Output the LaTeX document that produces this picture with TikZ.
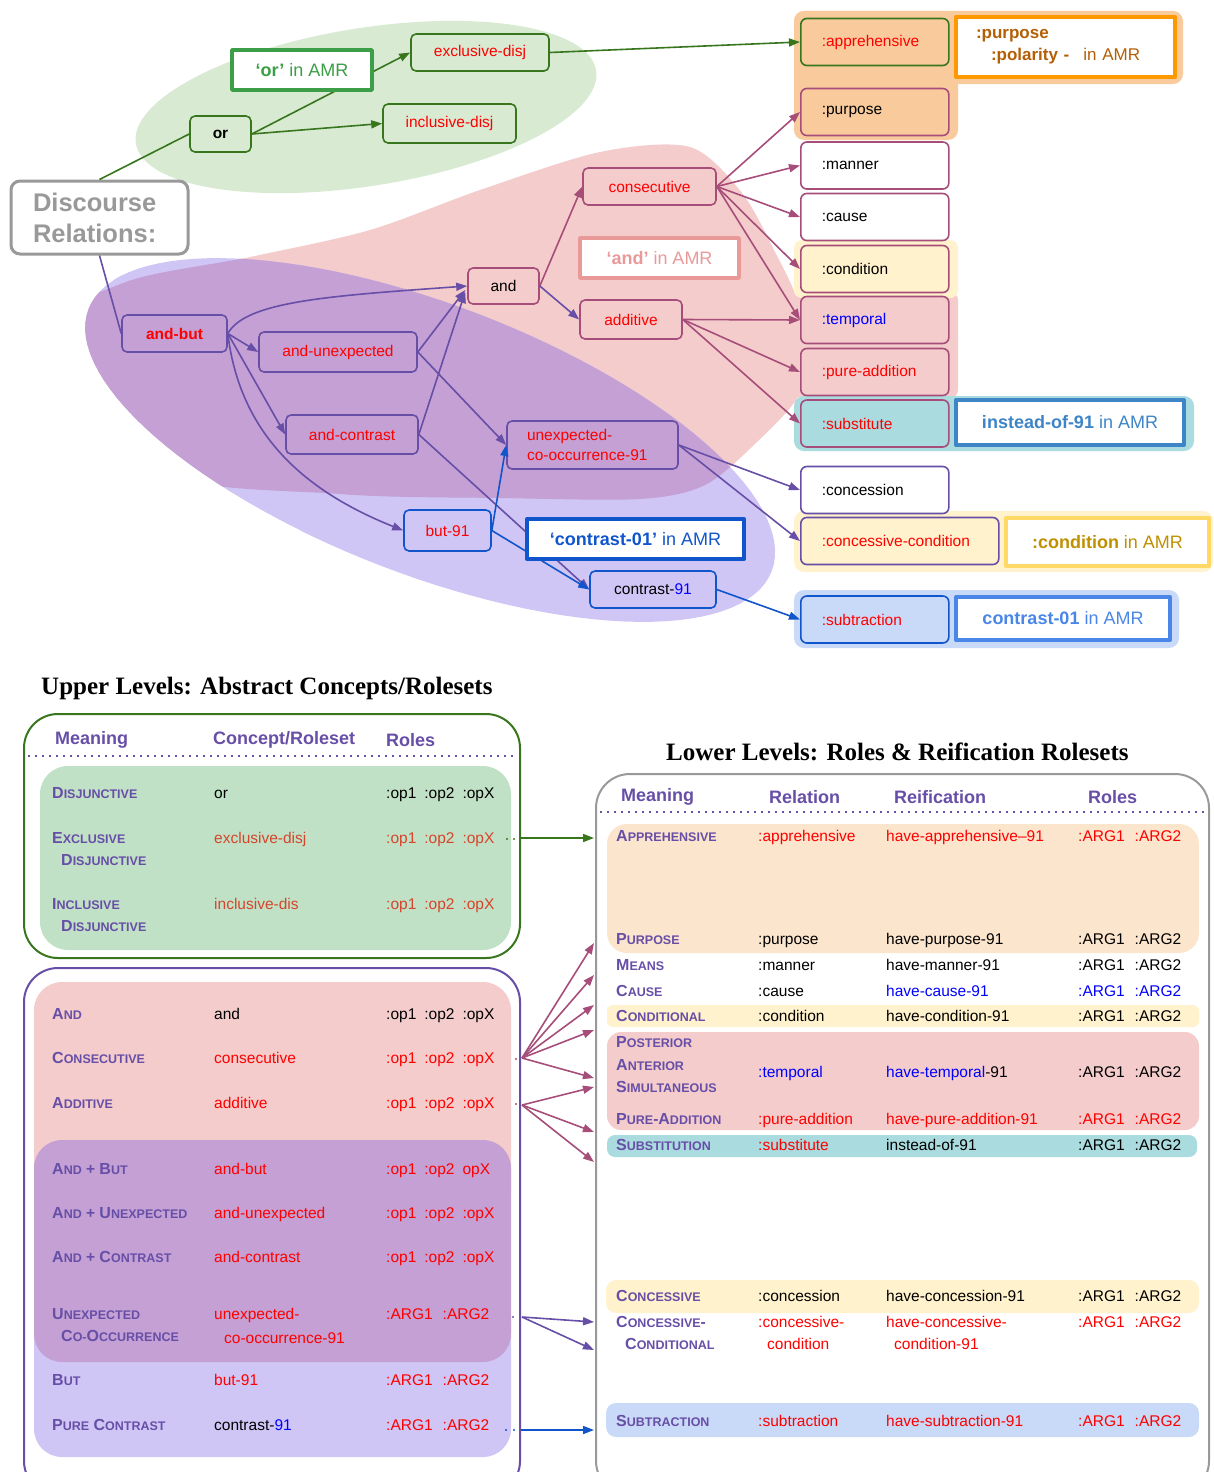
\documentclass[tikz,border=0pt]{standalone}
\usepackage{fontspec}
\setmainfont{Liberation Sans}
\newfontfamily\headfont{Liberation Serif}
\usetikzlibrary{arrows.meta,calc,positioning}

\definecolor{dgreen}{HTML}{38761D}
\definecolor{amrg}{HTML}{3C9E46}
\definecolor{plum}{HTML}{A64D79}
\definecolor{purp}{HTML}{674EA7}
\definecolor{cblue}{HTML}{1155CC}
\definecolor{grayb}{HTML}{999999}
\definecolor{greenbg}{HTML}{D9EAD3}
\definecolor{pinkbg}{HTML}{F4CCCC}
\definecolor{lavbg}{HTML}{CFC6F5}
\definecolor{mauve}{HTML}{C4A0D4}
\definecolor{peach}{HTML}{F9CB9C}
\definecolor{lpeach}{HTML}{FCE5CD}
\definecolor{lyellow}{HTML}{FFF2CC}
\definecolor{cyanbg}{HTML}{A9DBDF}
\definecolor{lblue}{HTML}{C9DAF8}
\definecolor{tgreen}{HTML}{C1E1C6}
\definecolor{tred}{HTML}{D5452B}
\definecolor{orangeb}{HTML}{FF9900}
\definecolor{oranget}{HTML}{B45F06}
\definecolor{goldb}{HTML}{FFD966}
\definecolor{goldt}{HTML}{BF9000}
\definecolor{steel}{HTML}{3D85C6}
\definecolor{cornb}{HTML}{4A86E8}
\definecolor{andred}{HTML}{EA9999}

\newcommand\smc[2]{{\fontsize{16}{18}\selectfont#1}{\fontsize{12.5}{14}\selectfont#2}}
\newcommand\cR[1]{\textcolor{red}{#1}}
\newcommand\cB[1]{\textcolor{blue}{#1}}
\newcommand\cT[1]{\textcolor{tred}{#1}}
\newcommand\opsx{:op1\hspace{8pt}:op2\hspace{8pt}:opX}
\newcommand\argsx{:ARG1\hspace{10pt}:ARG2}
% rows of the two tables
\newcommand\urow[5]{\node[mean] (#1-m) at (52,#2) {#3};
  \node[cell] (#1-c) at (214,#2) {#4};
  \node[cell] (#1-r) at (386,#2) {#5};}
\newcommand\lrow[6]{\node[mean] (#1-m) at (616,#2) {#3};
  \node[cell] (#1-r) at (758,#2) {#4};
  \node[cell] (#1-f) at (886,#2) {#5};
  \node[cell] (#1-a) at (1078,#2) {#6};}

\tikzset{
  nbox/.style={draw=#1, rounded corners=5pt, line width=1.6pt, minimum height=37pt, inner sep=0pt},
  rolebox/.style={draw=#1, rounded corners=6pt, line width=1.6pt, anchor=west, minimum height=47pt,
    inner xsep=21pt, text width=106pt, align=left},
  amrbox/.style={draw=#1, line width=3.5pt, fill=white, inner sep=0pt, font=\fontsize{18}{21}\selectfont},
  discbox/.style={draw=grayb, line width=3pt, rounded corners=9pt, fill=white, text=grayb,
    font=\fontsize{25.5}{31}\selectfont\bfseries, minimum height=73pt, align=left, text width=133pt, inner xsep=22pt},
  link/.style={draw=#1, line width=1.6pt, -{Triangle[length=11pt,width=8pt]}},
  cell/.style={anchor=west, inner sep=0pt, text height=11pt, text depth=0.5pt},
  mean/.style={cell, font=\bfseries, text=purp},
  head/.style={anchor=west, inner sep=0pt, font=\fontsize{18}{20}\selectfont\bfseries, text=purp},
  tabtitle/.style={anchor=west, inner sep=0pt, font=\headfont\bfseries\fontsize{25}{28}\selectfont}
}

\begin{document}
\fontsize{15.5}{18}\selectfont
\begin{tikzpicture}[x=1pt,y=-1pt,line join=round]
\useasboundingbox (0,0) rectangle (1213,1472);
%== blobs
\def\lavpath{plot[domain=0:360,samples=121] ({430+366*cos(\x)*cos(21)-135*sin(\x)*sin(21)},{440+366*cos(\x)*sin(21)+135*sin(\x)*cos(21)})}
\def\pinkpath{plot[smooth cycle] coordinates {(123,283) (250,257) (370,230) (480,190) (600,152) (690,147)
  (742,193) (775,252) (797,300) (801,350) (799,395) (757,442) (705,485) (640,499) (500,498) (340,494) (150,470) (40,340)}}
\fill[greenbg, rotate around={9:(366,107)}] (366,107) ellipse [x radius=233, y radius=79];
\fill[pinkbg] \pinkpath;
\fill[lavbg] \lavpath;
\begin{scope}
  \clip \lavpath;
  \fill[mauve] \pinkpath;
\end{scope}
\begin{scope}
  \clip (0,280) rectangle (300,720);
  \fill[white, even odd rule] (-10,270) rectangle (310,730) \lavpath;
\end{scope}
%== groups on the right
\fill[peach, rounded corners=10pt] (794,11) rectangle (1183,84);
\fill[peach, rounded corners=10pt] (794,11) rectangle (958,140);
\fill[pinkbg, rounded corners=8pt] (794,292) rectangle (958,398);
\fill[lyellow, rounded corners=8pt] (794,240) rectangle (958,298);
\fill[cyanbg, rounded corners=10pt] (794,396) rectangle (1194,451);
\fill[lyellow, rounded corners=10pt] (794,511) rectangle (1213,572);
\fill[lblue, rounded corners=10pt] (794,590) rectangle (1179,648);

%== nodes
\node[discbox] (disc) at (99.5,217.5) {Discourse\\Relations:};
\node[nbox=dgreen, minimum width=61pt, minimum height=36pt, font=\bfseries] (orn) at (220.5,134) {or};
\node[nbox=dgreen, minimum width=138pt, text=red] (excl) at (480,52.5) {exclusive-disj};
\node[nbox=dgreen, minimum width=133pt, minimum height=39pt, text=red] (incl) at (449.5,123.5) {inclusive-disj};

\node[rolebox=dgreen, fill=peach, text=red] (appr) at (800,42) {:apprehensive};
\node[rolebox=plum, fill=peach] (purpose) at (800,112) {:purpose};
\node[rolebox=plum, fill=white] (manner) at (800,165.5) {:manner};
\node[rolebox=plum, fill=white] (cause) at (800,217) {:cause};
\node[rolebox=plum, fill=lyellow] (cond) at (800,269) {:condition};
\node[rolebox=plum, fill=pinkbg, text=blue] (temporal) at (800,320) {:temporal};
\node[rolebox=plum, fill=pinkbg, text=red] (pureadd) at (800,372) {:pure-addition};
\node[rolebox=plum, fill=cyanbg, text=red] (subst) at (800,423.5) {:substitute};
\node[rolebox=purp, fill=white] (conc) at (800,490) {:concession};
\node[rolebox=purp, fill=lyellow, text=red, text width=156pt] (conccond) at (800,541) {:concessive-condition};
\node[rolebox=cblue, fill=lblue, text=red] (subtr) at (800,619.5) {:subtraction};

\node[nbox=plum, minimum width=133pt, text=red] (consec) at (649.5,186.5) {consecutive};
\node[nbox=plum, minimum width=71pt, minimum height=36pt] (andn) at (503.5,286) {and};
\node[nbox=plum, minimum width=102pt, minimum height=39pt, text=red] (addit) at (631,319.5) {additive};
\node[nbox=purp, minimum width=105pt, text=red, font=\bfseries] (andbut) at (174.5,333.5) {and-but};
\node[nbox=purp, minimum width=158pt, minimum height=40pt, text=red] (andunexp) at (338,352) {and-unexpected};
\node[nbox=purp, minimum width=132pt, minimum height=39pt, text=red] (andcontr) at (352,434.5) {and-contrast};
\node[nbox=purp, minimum height=48pt, text=red, align=left, text width=131pt, inner xsep=20pt,
  font=\fontsize{15.5}{20}\selectfont] (unexp) at (592.5,445) {unexpected-\\co-occurrence-91};
\node[nbox=cblue, minimum width=87pt, minimum height=41pt, text=red] (but91) at (447.5,530.5) {but-91};
\node[nbox=cblue, minimum width=126pt] (contr91) at (653,589.5) {contrast-\cB{91}};

%== connectors
\draw[dgreen, line width=1.6pt] (disc.north) -- (orn.west);
\draw[link=dgreen] (orn.east) -- (excl.west);
\draw[link=dgreen] (orn.east) -- (incl.west);
\draw[link=dgreen] (excl.east) -- (appr.west);
\draw[purp, line width=1.6pt] (disc.south) -- (andbut.west);
\draw[link=purp] (andbut.east) .. controls +(18,-32) and +(-140,10) .. (andn.west);
\draw[link=purp] (andbut.east) -- (andunexp.west);
\draw[link=purp] (andbut.east) -- (andcontr.west);
\draw[link=purp] (andbut.east) .. controls +(12,100) and +(-100,-40) .. (but91.west);
\draw[link=purp] (andunexp.east) -- ($(andn.west)+(-2,4)$);
\draw[link=purp] (andcontr.east) -- ($(andn.west)+(-2,6)$);
\draw[link=purp] (andunexp.east) -- (unexp.west);
\draw[link=purp] (andcontr.east) -- (contr91.west);
\draw[link=cblue] (but91.east) -- (unexp.west);
\draw[link=cblue] (but91.east) -- (contr91.west);
\draw[link=plum] (andn.east) -- (consec.west);
\draw[link=purp] (andn.east) -- (addit.west);
\foreach \t in {purpose,manner,cause,cond,temporal}
  \draw[link=plum] (consec.east) -- (\t.west);
\foreach \t in {temporal,pureadd,subst}
  \draw[link=plum] (addit.east) -- (\t.west);
\foreach \t in {conc,conccond}
  \draw[link=purp] (unexp.east) -- (\t.west);
\draw[link=cblue] (contr91.east) -- (subtr.west);

%== 'in AMR' labels
\node[amrbox=amrg, minimum width=140pt, minimum height=40pt, text=amrg] (orlab) at (302,70) {\textbf{‘or’} in AMR};
\node[amrbox=andred, minimum width=159pt, minimum height=40pt, text=andred] (andlab) at (659.5,258) {\textbf{‘and’} in AMR};
\node[amrbox=cblue, line width=4pt, minimum width=217pt, minimum height=40pt, text=cblue] (contramr) at (635.5,539) {\textbf{‘contrast-01’} in AMR};
\node[amrbox=orangeb, line width=4pt, minimum height=60pt, text=oranget, align=left, text width=179pt, inner xsep=20pt,
  font=\fontsize{17}{22}\selectfont] (purpamr) at (1065.5,47) {\textbf{:purpose}\\\hspace*{15pt}\textbf{:polarity -}\hspace{14pt}in AMR};
\node[amrbox=steel, line width=4pt, minimum width=228pt, minimum height=45pt, text=steel] (insteadamr) at (1070,422.5) {\textbf{instead-of-91} in AMR};
\node[amrbox=goldb, line width=4pt, minimum width=203pt, minimum height=48pt, text=goldt] (condamr) at (1107.5,542) {\textbf{:condition} in AMR};
\node[amrbox=cornb, line width=4pt, minimum width=214pt, minimum height=43pt, text=cornb] (contrastamr) at (1063,618.5) {\textbf{contrast-01} in AMR};

%== upper levels table
\node[tabtitle] (uphead) at (41,688) {Upper Levels: Abstract Concepts/Rolesets};
\draw[dgreen, line width=2pt, rounded corners=34pt] (24,714) rectangle (520,958);
\fill[tgreen, rounded corners=28pt] (40,766) rectangle (511,950);
\draw[purp, line width=1.5pt, dash pattern=on 1.5pt off 5.5pt] (28,756) -- (518,756);
\node[head] (uh-m) at (55,740) {Meaning};
\node[head] (uh-c) at (213,740) {Concept/Roleset};
\node[head] (uh-r) at (386,740) {Roles};
\urow{dis}{793}{\smc{D}{ISJUNCTIVE}}{or}{\opsx}
\urow{exc}{838}{\smc{E}{XCLUSIVE}}{\cT{exclusive-disj}}{\cT{\opsx}}
\node[mean] (exc-m2) at (61,860) {\smc{D}{ISJUNCTIVE}};
\urow{inc}{904}{\smc{I}{NCLUSIVE}}{\cT{inclusive-dis}}{\cT{\opsx}}
\node[mean] (inc-m2) at (61,926) {\smc{D}{ISJUNCTIVE}};

\draw[purp, line width=2pt, rounded corners=34pt] (24,968) rectangle (520,1495);
\fill[pinkbg, rounded corners=28pt] (34,982) rectangle (511,1220);
\fill[lavbg, rounded corners=28pt] (34,1290) rectangle (511,1457);
\fill[mauve, rounded corners=28pt] (34,1140) rectangle (511,1362);
\urow{and}{1014}{\smc{A}{ND}}{and}{\opsx}
\urow{con}{1058}{\smc{C}{ONSECUTIVE}}{\cR{consecutive}}{\cR{\opsx}}
\urow{add}{1103}{\smc{A}{DDITIVE}}{\cR{additive}}{\cR{\opsx}}
\urow{ab}{1169}{\smc{A}{ND} + \smc{B}{UT}}{\cR{and-but}}{\cR{:op1\hspace{8pt}:op2\hspace{8pt}opX}}
\urow{au}{1213}{\smc{A}{ND} + \smc{U}{NEXPECTED}}{\cR{and-unexpected}}{\cR{\opsx}}
\urow{ac}{1257}{\smc{A}{ND} + \smc{C}{ONTRAST}}{\cR{and-contrast}}{\cR{\opsx}}
\urow{uc}{1314}{\smc{U}{NEXPECTED}}{\cR{unexpected-}}{\cR{\argsx}}
\node[mean] (uc-m2) at (61,1336) {\smc{C}{O-}\smc{O}{CCURRENCE}};
\node[cell] (uc-c2) at (224,1338) {\cR{co-occurrence-91}};
\urow{but}{1380}{\smc{B}{UT}}{\cR{but-91}}{\cR{\argsx}}
\urow{pc}{1425}{\smc{P}{URE} \smc{C}{ONTRAST}}{contrast-\cB{91}}{\cR{\argsx}}

%== lower levels table
\node[tabtitle] (lowhead) at (666,752) {Lower Levels: Roles \& Reification Rolesets};
\draw[grayb, line width=2pt, rounded corners=34pt] (596,774) rectangle (1209,1495);
\fill[lpeach, rounded corners=20pt] (607,824) rectangle (1199,953);
\fill[lyellow, rounded corners=6pt] (607,1005) rectangle (1199,1027);
\fill[pinkbg, rounded corners=14pt] (607,1032) rectangle (1199,1130);
\fill[cyanbg, rounded corners=8pt] (607,1135) rectangle (1197,1157);
\fill[lyellow, rounded corners=10pt] (606,1280) rectangle (1199,1313);
\fill[lblue, rounded corners=10pt] (606,1403) rectangle (1199,1437);
\draw[purp, line width=1.5pt, dash pattern=on 1.5pt off 5.5pt] (600,812) -- (1205,812);
\node[head] (lh-m) at (621,797) {Meaning};
\node[head] (lh-r) at (769,797) {Relation};
\node[head] (lh-f) at (894,797) {Reification};
\node[head] (lh-a) at (1088,797) {Roles};
\lrow{appr}{836}{\smc{A}{PPREHENSIVE}}{\cR{:apprehensive}}{\cR{have-apprehensive–91}}{\cR{\argsx}}
\lrow{purp}{939}{\smc{P}{URPOSE}}{:purpose}{have-purpose-91}{\argsx}
\lrow{mns}{965}{\smc{M}{EANS}}{:manner}{have-manner-91}{\argsx}
\lrow{cau}{991}{\smc{C}{AUSE}}{:cause}{\cB{have-cause-91}}{\cB{\argsx}}
\lrow{cnd}{1016}{\smc{C}{ONDITIONAL}}{:condition}{have-condition-91}{\argsx}
\node[mean] (tmp-m1) at (616,1042) {\smc{P}{OSTERIOR}};
\node[mean] (tmp-m2) at (616,1065) {\smc{A}{NTERIOR}};
\node[mean] (tmp-m3) at (616,1087) {\smc{S}{IMULTANEOUS}};
\node[cell] (tmp-r) at (758,1072) {\cB{:temporal}};
\node[cell] (tmp-f) at (886,1072) {\cB{have-temporal}-91};
\node[cell] (tmp-a) at (1078,1072) {\argsx};
\lrow{padd}{1119}{\smc{P}{URE}-\smc{A}{DDITION}}{\cR{:pure-addition}}{\cR{have-pure-addition-91}}{\cR{\argsx}}
\lrow{sub}{1145}{\smc{S}{UBSTITUTION}}{\cR{:substitute}}{instead-of-91}{\argsx}
\lrow{cons}{1296}{\smc{C}{ONCESSIVE}}{:concession}{have-concession-91}{\argsx}
\lrow{ccd}{1322}{\smc{C}{ONCESSIVE}-}{\cR{:concessive-}}{\cR{have-concessive-}}{\cR{\argsx}}
\node[mean] (ccd-m2) at (625,1344) {\smc{C}{ONDITIONAL}};
\node[cell] (ccd-r2) at (767,1344) {\cR{condition}};
\node[cell] (ccd-f2) at (894,1344) {\cR{condition-91}};
\lrow{sbt}{1421}{\smc{S}{UBTRACTION}}{\cR{:subtraction}}{\cR{have-subtraction-91}}{\cR{\argsx}}

%== links between the tables
\foreach \p in {(507,839),(514,839)} \fill[dgreen] \p circle (1.2);
\foreach \p in {(516,1059),(516,1104)} \fill[plum] \p circle (1.2);
\fill[purp] (513,1317) circle (1.2);
\foreach \p in {(506,1430),(514,1430)} \fill[cblue] \p circle (1.2);
\coordinate (exc-s) at (521,838);
\coordinate (con-s) at (522,1058);
\coordinate (add-s) at (522,1105);
\coordinate (uc-s) at (522,1317);
\coordinate (pc-s) at (521,1430);
\coordinate (appr-t) at (594,838);
\foreach \ty [count=\i] in {943,975,1005,1030,1078} \coordinate (ct\i) at (594,\ty);
\foreach \ty [count=\i] in {1087,1132,1162} \coordinate (at\i) at (594,\ty);
\coordinate (cc1) at (594,1322);
\coordinate (cc2) at (594,1350);
\coordinate (sbt-t) at (594,1430);
\draw[link=dgreen] (exc-s) -- (appr-t);
\foreach \i in {1,...,5} \draw[link=plum] (con-s) -- (ct\i);
\foreach \i in {1,2,3} \draw[link=plum] (add-s) -- (at\i);
\foreach \i in {1,2} \draw[link=purp] (uc-s) -- (cc\i);
\draw[link=cblue] (pc-s) -- (sbt-t);
\end{tikzpicture}
\end{document}
